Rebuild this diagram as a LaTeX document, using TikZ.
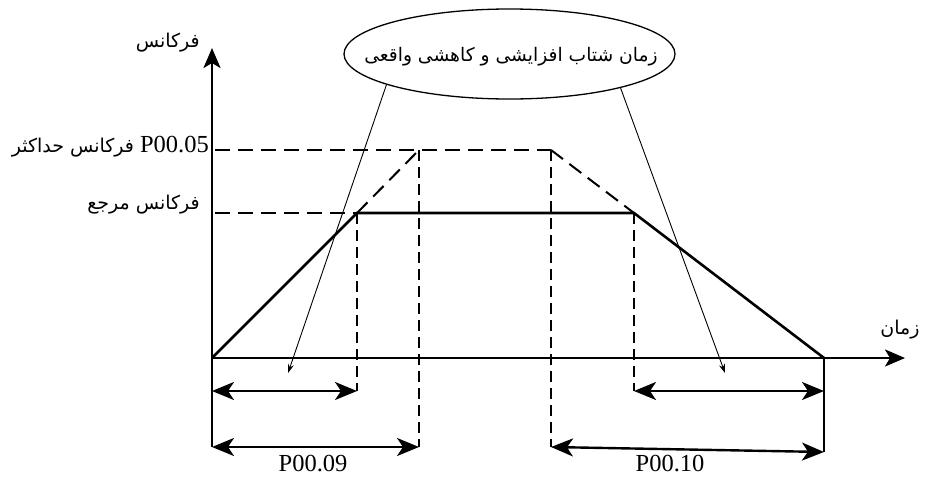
\documentclass[tikz,border=0pt]{standalone}
\usepackage{fontspec}
\setmainfont{Liberation Serif}
\newfontfamily\arabicfont[Script=Arabic]{DejaVu Sans}
\TeXXeTstate=1
\usetikzlibrary{arrows.meta,shapes.geometric}
\begin{document}
\begin{tikzpicture}[x=1pt,y=-1pt,
  axis/.style={line width=2.6pt,-{Stealth[length=20pt,width=17pt,inset=5pt]}},
  curve/.style={line width=2.6pt},
  hdash/.style={line width=2pt,dash pattern=on 15pt off 8pt},
  vdash/.style={line width=2pt,dash pattern=on 11pt off 6pt},
  dim/.style={line width=2.4pt,{Stealth[length=22pt,width=18pt,inset=6pt]}-{Stealth[length=22pt,width=18pt,inset=6pt]}},
  pointer/.style={line width=0.9pt,-{Stealth[length=9pt,width=6pt]}},
  fa/.style={inner sep=0pt,font=\arabicfont\fontsize{19}{22}\selectfont},
  lat/.style={inner sep=0pt,font=\fontsize{24.5}{30}\selectfont}]
\useasboundingbox (0,0) rectangle (925,477);
% key points
\coordinate (O) at (212,358);
\coordinate (Ytop) at (212,48);
\coordinate (Ybot) at (212,447);
\coordinate (Xend) at (905,358);
\coordinate (A) at (357,213);
\coordinate (B) at (634,213);
\coordinate (E) at (824,358);
\coordinate (Ebot) at (824,452);
\coordinate (DA) at (419,150);
\coordinate (DB) at (551,150);
\coordinate (H1) at (215,150);
\coordinate (H2) at (215,213);
\coordinate (A1) at (357,391);
\coordinate (B1) at (634,391);
\coordinate (E1) at (824,391);
\coordinate (O1) at (212,391);
\coordinate (DA1) at (419,447);
\coordinate (DB1) at (551,447);
\coordinate (O2) at (212,447);
\coordinate (P1) at (288,373);
\coordinate (P2) at (725,373);
% axes
\draw[axis] (Ybot) -- (Ytop);
\draw[axis] (O) -- (Xend);
\draw[curve] (E) -- (Ebot);
% curves
\draw[curve] (O) -- (A) -- (B) -- (E);
\draw[hdash] (H1) -- (DB);
\draw[hdash] (H2) -- (A);
\draw[hdash] (A) -- (DA);
\draw[hdash] (DB) -- (B);
\draw[vdash] (A) -- (A1);
\draw[vdash] (DA) -- (DA1);
\draw[vdash] (DB) -- (DB1);
\draw[vdash] (B) -- (B1);
% dimension arrows
\draw[dim] (O1) -- (A1);
\draw[dim] (B1) -- (E1);
\draw[dim] (O2) -- (DA1);
\draw[dim] (DB1) -- (Ebot);
\node[lat,anchor=base] (l09) at (313,471) {P00.09};
\node[lat,anchor=base] (l10) at (670,471) {P00.10};
% labels
\node[fa,anchor=east] (fy) at (200,43) {\beginR فرکانس\endR};
\node[fa,anchor=east] (fmax) at (209,147) {\beginR فرکانس حداکثر\endR\ {\rmfamily\fontsize{24.5}{30}\selectfont P00.05}};
\node[fa,anchor=east] (fref) at (200,205) {\beginR فرکانس مرجع\endR};
\node[fa] (fx) at (900,330) {\beginR زمان\endR};
% ellipse
\node[ellipse,draw,line width=1.3pt,minimum width=331pt,minimum height=90pt,inner sep=0pt] (ell) at (509.5,54) {};
\node[fa,font=\arabicfont\fontsize{18.7}{22}\selectfont] (ellt) at (511,57) {\beginR زمان شتاب افزایشی و کاهشی واقعی\endR};
\draw[pointer] (ell.194.5) -- (P1);
\draw[pointer] (ell.343.8) -- (P2);
\end{tikzpicture}
\end{document}
